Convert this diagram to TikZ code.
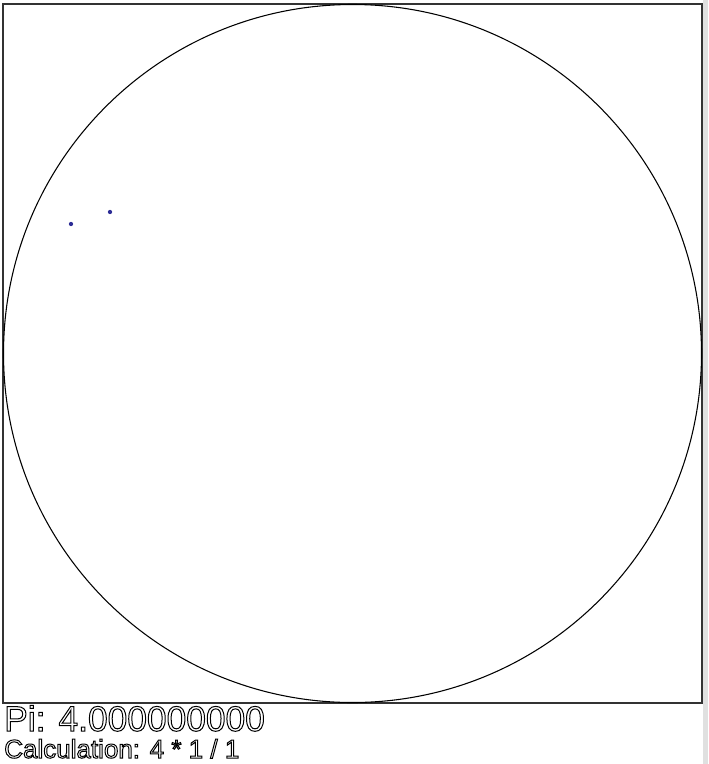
\documentclass[tikz,border=0pt]{standalone}
\usepackage{fontspec}
\setmainfont{Liberation Sans}
\newcommand\hollowtext[1]{\special{pdf:literal 1 Tr 0.75 w}#1\special{pdf:literal 0 Tr}}
\definecolor{dotblue}{RGB}{45,45,150}
\tikzset{
  frame/.style={draw=black!80, line width=1.1pt},
  disk/.style={draw=black, line width=0.8pt},
  dot/.style={circle, fill=dotblue, inner sep=0pt, minimum size=3.2pt},
  label/.style={anchor=base west, inner sep=0pt, text=black}
}
\begin{document}
\begin{tikzpicture}[x=0.75pt, y=-0.75pt]
\useasboundingbox (0,0) rectangle (708,764);
\fill[white] (0,0) rectangle (708,764);
\fill[black!12] (703,0) rectangle (708,764);
\draw[frame] (3,4) rectangle (702,703);
\draw[disk] (352.5,353.5) circle[radius=349];
\node[dot] (d1) at (71,224) {};
\node[dot] (d2) at (110,212) {};
\node[label, font=\fontsize{26.5pt}{30pt}\selectfont] (pi) at (4,731) {\hollowtext{Pi: 4.000000000}};
\node[label, font=\fontsize{19.5pt}{22pt}\selectfont] (calc) at (4,758) {\hollowtext{Calculation: 4 * 1 / 1}};
\end{tikzpicture}
\end{document}
